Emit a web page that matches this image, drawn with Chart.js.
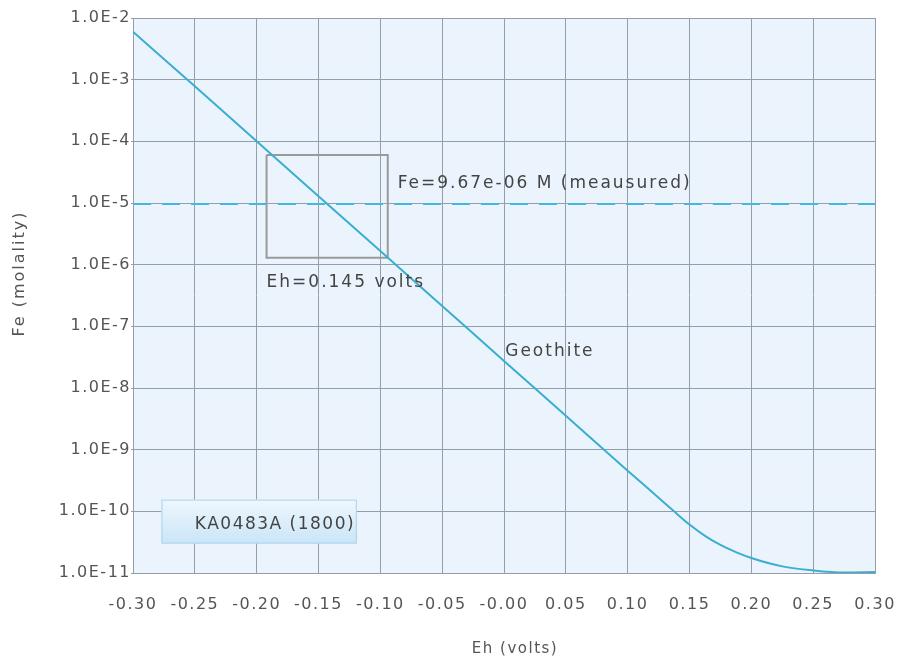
<!DOCTYPE html>
<html>
<head>
<meta charset="utf-8">
<script src="https://cdn.jsdelivr.net/npm/chart.js@4/dist/chart.umd.min.js"></script>
<style>
  html, body { margin: 0; padding: 0; background: #fff; }
  #wrap { width: 911px; height: 666px; }
</style>
</head>
<body>
<div id="wrap"><canvas id="chart" width="911" height="666"></canvas></div>
<script>
// Geothite curve (Eh in volts, Fe in molality)
const ehValues = [-0.30, -0.25, -0.20, -0.15, -0.10, -0.05, 0.00, 0.05, 0.10, 0.125, 0.1375, 0.15, 0.1625, 0.175, 0.1875, 0.20, 0.225, 0.25, 0.275, 0.30];
const feValues = [6.0e-3, 7.8e-4, 1.0e-4, 1.29e-5, 1.66e-6, 2.14e-7, 2.75e-8, 3.55e-9, 4.57e-10, 1.66e-10, 1.0e-10, 6.1e-11, 4.0e-11, 2.85e-11, 2.18e-11, 1.75e-11, 1.28e-11, 1.1e-11, 1.02e-11, 1.035e-11];

// measured Fe level
const measuredFe = 9.67e-6;
const measuredEh = [-0.30, 0.30];

// box around the intersection
const boxEh = [-0.192, -0.094, -0.094, -0.192, -0.192];
const boxFe = [6.0e-5, 6.0e-5, 1.3e-6, 1.3e-6, 6.0e-5];

// axis ticks
const xTickValues = [-0.30, -0.25, -0.20, -0.15, -0.10, -0.05, 0.00, 0.05, 0.10, 0.15, 0.20, 0.25, 0.30];
const xTickLabels = ['-0.30', '-0.25', '-0.20', '-0.15', '-0.10', '-0.05', '-0.00', '0.05', '0.10', '0.15', '0.20', '0.25', '0.30'];
const yTickExponents = [-2, -3, -4, -5, -6, -7, -8, -9, -10, -11];

const xTitle = 'Eh (volts)';
const yTitle = 'Fe (molality)';

// text labels anchored in data coordinates
const noteTexts = ['Fe=9.67e-06 M (meausured)', 'Eh=0.145 volts', 'Geothite'];
const noteEh = [-0.086, -0.192, 0.001];
const noteFe = [2.1e-5, 5.1e-7, 3.9e-8];

// legend box
const legendText = 'KA0483A (1800)';
const legendEh = [-0.277, -0.119];
const legendFe = [1.55e-10, 3.0e-11];

const textColor = '#555';
const gridColor = '#949eaa';
const fontFamily = '"DejaVu Sans", sans-serif';

const curvePoints = ehValues.map((x, i) => ({ x: x, y: feValues[i] }));
const measuredPoints = measuredEh.map(x => ({ x: x, y: measuredFe }));
const boxPoints = boxEh.map((x, i) => ({ x: x, y: boxFe[i] }));

// background of plot area, wider letters for the axis text
const plotBg = {
    id: 'plotBg',
    beforeDraw(chart) {
        const { ctx, chartArea: a } = chart;
        ctx.letterSpacing = '1.5px';
        ctx.save();
        ctx.fillStyle = '#ebf4fc';
        ctx.fillRect(a.left, a.top, a.right - a.left, a.bottom - a.top);
        ctx.restore();
    }
};

// legend box, notes and axis titles
const notes = {
    id: 'notes',
    afterDatasetsDraw(chart) {
        const { ctx, scales: { x, y } } = chart;
        ctx.save();
        // legend box
        const lx = x.getPixelForValue(legendEh[0]);
        const rx = x.getPixelForValue(legendEh[1]);
        const ty = y.getPixelForValue(legendFe[0]);
        const by = y.getPixelForValue(legendFe[1]);
        const g = ctx.createLinearGradient(0, ty, 0, by);
        g.addColorStop(0, '#eef7fd');
        g.addColorStop(1, '#cbe5f7');
        ctx.fillStyle = g;
        ctx.fillRect(lx, ty, rx - lx, by - ty);
        ctx.strokeStyle = '#a9d2ee';
        ctx.lineWidth = 1;
        ctx.strokeRect(lx + 0.5, ty + 0.5, rx - lx - 1, by - ty - 1);

        ctx.font = '17px ' + fontFamily;
        ctx.fillStyle = '#444';
        ctx.textBaseline = 'middle';
        ctx.textAlign = 'left';
        ctx.letterSpacing = '1.5px';
        ctx.fillText(legendText, x.getPixelForValue(-0.25), (ty + by) / 2 + 3);

        ctx.letterSpacing = '2px';
        noteTexts.forEach((t, i) => {
            ctx.fillText(t, x.getPixelForValue(noteEh[i]), y.getPixelForValue(noteFe[i]));
        });
        ctx.restore();
    },
    afterDraw(chart) {
        const { ctx, chartArea: a } = chart;
        ctx.save();
        ctx.fillStyle = textColor;
        ctx.textAlign = 'center';
        ctx.textBaseline = 'middle';
        ctx.font = '15px ' + fontFamily;
        ctx.letterSpacing = '1.5px';
        ctx.fillText(xTitle, (a.left + a.right) / 2 + 11, 649);
        ctx.font = '16px ' + fontFamily;
        ctx.letterSpacing = '2px';
        ctx.translate(20, (a.top + a.bottom) / 2 - 22);
        ctx.rotate(-Math.PI / 2);
        ctx.fillText(yTitle, 0, 0);
        ctx.restore();
    }
};

new Chart(document.getElementById('chart'), {
    type: 'scatter',
    data: {
        datasets: [
            {
                label: 'Geothite',
                data: curvePoints,
                showLine: true,
                borderColor: '#3aaed0',
                borderWidth: 2,
                pointRadius: 0,
                cubicInterpolationMode: 'monotone'
            },
            {
                label: 'measured',
                data: measuredPoints,
                showLine: true,
                borderColor: '#42b8e0',
                borderWidth: 2,
                borderDash: [18, 11],
                pointRadius: 0
            },
            {
                label: 'box',
                data: boxPoints,
                showLine: true,
                borderColor: '#9a9a9a',
                borderWidth: 2,
                pointRadius: 0
            }
        ]
    },
    options: {
        responsive: false,
        animation: false,
        layout: { padding: { top: 18, right: 36, left: 0, bottom: 0 } },
        plugins: {
            legend: { display: false },
            tooltip: { enabled: false }
        },
        scales: {
            x: {
                type: 'linear',
                min: -0.30,
                max: 0.30,
                afterBuildTicks: scale => { scale.ticks = xTickValues.map(v => ({ value: v })); },
                afterFit: scale => { scale.height = 93; },
                ticks: {
                    color: textColor,
                    font: { family: fontFamily, size: 16 },
                    padding: 18,
                    maxRotation: 0,
                    autoSkip: false,
                    callback: (v, i) => xTickLabels[i]
                },
                grid: { color: gridColor, tickLength: 4, tickColor: 'rgba(0,0,0,0)' },
                border: { color: gridColor }
            },
            y: {
                type: 'logarithmic',
                min: 1e-11,
                max: 1e-2,
                afterBuildTicks: scale => { scale.ticks = yTickExponents.map(e => ({ value: Math.pow(10, e) })); },
                afterFit: scale => { scale.width = 133; },
                ticks: {
                    color: textColor,
                    font: { family: fontFamily, size: 16 },
                    padding: 0,
                    autoSkip: false,
                    callback: v => '1.0E' + Math.round(Math.log10(v))
                },
                grid: { color: gridColor, tickLength: 2, tickColor: gridColor },
                border: { color: gridColor }
            }
        }
    },
    plugins: [plotBg, notes]
});
</script>
</body>
</html>
